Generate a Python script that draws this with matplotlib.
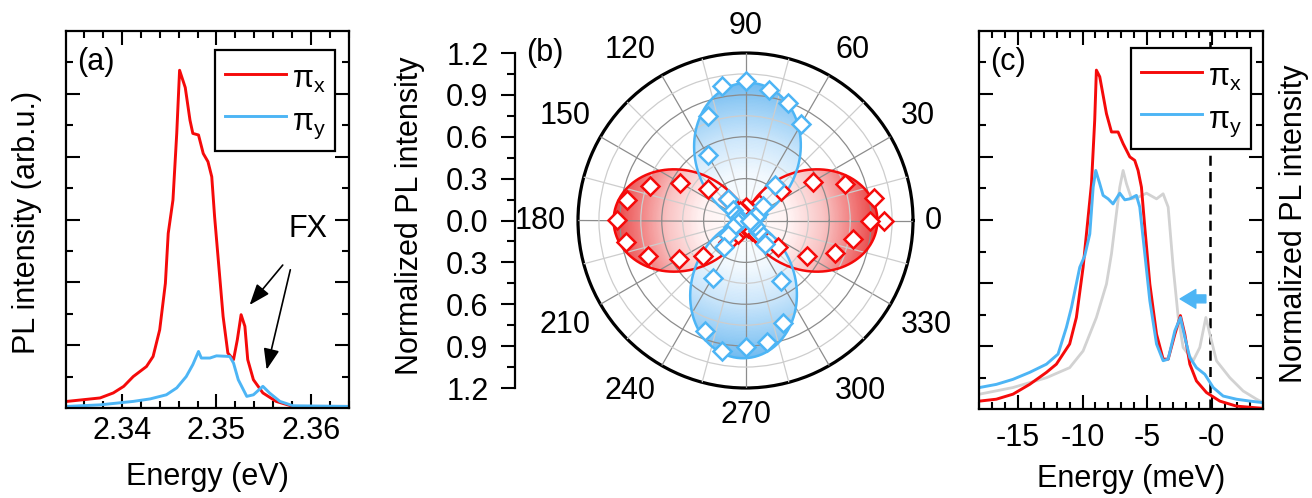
import matplotlib
matplotlib.use("Agg")
import matplotlib.pyplot as plt
import numpy as np
from matplotlib.colors import LinearSegmentedColormap
from matplotlib.transforms import offset_copy

plt.rcParams["font.family"] = ["Liberation Sans", "DejaVu Sans"]
plt.rcParams["mathtext.fontset"] = "custom"
plt.rcParams["mathtext.rm"] = "Liberation Sans"
plt.rcParams["mathtext.default"] = "rm"
plt.rcParams["axes.unicode_minus"] = False

RED = "#f50a0a"
BLUE = "#4db5f5"
GRAY = "#d2d2d2"

# ---- panel (a): PL spectra vs photon energy (eV) ----
a_red_e = [2.3342, 2.3377, 2.3391, 2.3402, 2.3412, 2.3426, 2.3433, 2.3440, 2.3446,
           2.3449, 2.3454, 2.3458, 2.3461, 2.3467, 2.3472, 2.3475, 2.3481, 2.3486,
           2.3491, 2.3495, 2.3498, 2.3504, 2.3507, 2.3512, 2.3518, 2.3522, 2.3526,
           2.3530, 2.3533, 2.3539, 2.3549, 2.3563, 2.3581, 2.3640]
a_red_i = [0.21, 0.32, 0.48, 0.69, 1.00, 1.32, 1.64, 2.49, 3.97,
           5.56, 6.62, 8.74, 10.75, 10.20, 9.16, 8.74, 8.69, 8.10,
           7.84, 7.36, 6.09, 3.97, 2.91, 1.75, 1.54, 2.17, 2.97,
           2.60, 1.54, 0.90, 0.48, 0.21, 0.05, 0.05]
a_blue_e = [2.3342, 2.3377, 2.3412, 2.3430, 2.3447, 2.3458, 2.3468, 2.3475, 2.3481,
            2.3484, 2.3493, 2.3500, 2.3514, 2.3518, 2.3523, 2.3532, 2.3539, 2.3549,
            2.3556, 2.3567, 2.3581, 2.3640]
a_blue_i = [0.05, 0.10, 0.21, 0.29, 0.42, 0.64, 1.00, 1.38, 1.80,
            1.59, 1.59, 1.66, 1.64, 1.43, 0.90, 0.37, 0.42, 0.69,
            0.48, 0.21, 0.07, 0.05]

# ---- panel (b): polarization diagrams ----
angles_deg = list(range(0, 361, 10))
b_red_r = [0.995, 0.935, 0.76, 0.555, 0.33, 0.15, 0.08, 0.05, 0.04, 0.10,
           0.05, 0.06, 0.08, 0.20, 0.35, 0.54, 0.73, 0.86, 0.92, 0.87,
           0.74, 0.55, 0.40, 0.20, 0.11, 0.06, 0.04, 0.03, 0.04, 0.06,
           0.09, 0.13, 0.30, 0.51, 0.68, 0.78, 0.89]
b_blue_r = [0.03, 0.05, 0.08, 0.10, 0.16, 0.33, 0.80, 0.895, 0.952, 1.00,
            0.977, 0.794, 0.542, 0.20, 0.12, 0.08, 0.05, 0.03, 0.04, 0.04,
            0.06, 0.10, 0.16, 0.245, 0.472, 0.841, 0.949, 0.905, 0.881, 0.778,
            0.502, 0.217, 0.12, 0.08, 0.05, 0.03, 0.03]
# cos^2 fit parameters: amplitude, offset, axis angle (deg)
fit_red = (0.93, 0.015, 0.0)
fit_blue = (0.975, 0.012, 88.5)
theta_labels = list(range(0, 360, 30))
radial_major = [0.3, 0.6, 0.9]
radial_minor = [0.15, 0.45, 0.75, 1.05]
scale_ticks = [-1.2, -0.9, -0.6, -0.3, 0.0, 0.3, 0.6, 0.9, 1.2]

# ---- panel (c): spectra vs relative energy (meV) ----
c_red_e = [-17.98, -16.68, -15.39, -14.1, -12.8, -12.03, -11.0, -10.48, -9.96, -9.57,
           -9.31, -9.06, -8.93, -8.67, -8.15, -7.76, -7.25, -6.86, -6.34, -5.96,
           -5.70, -5.44, -5.18, -4.79, -4.27, -3.76, -3.37, -2.85, -2.42, -2.08,
           -1.69, -1.18, -0.40, 0.63, 1.92, 4.0]
c_red_i = [0.26, 0.32, 0.48, 0.79, 1.17, 1.43, 2.07, 2.91, 4.50, 6.09,
           7.15, 9.16, 10.75, 10.54, 9.37, 8.79, 8.79, 8.42, 8.00, 7.89,
           7.57, 7.04, 5.77, 3.97, 2.38, 1.59, 1.59, 2.38, 2.97, 2.38,
           1.43, 0.90, 0.53, 0.26, 0.10, 0.03]
c_blue_e = [-17.98, -16.68, -15.39, -14.1, -12.8, -11.9, -11.25, -10.86, -10.22, -9.83,
            -9.44, -9.18, -8.98, -8.67, -8.41, -8.02, -7.64, -7.12, -6.73, -6.34,
            -5.83, -5.57, -5.18, -4.79, -4.27, -3.76, -3.37, -2.85, -2.42, -2.08,
            -1.69, -1.18, -0.53, 0.12, 0.89, 1.92, 2.96, 4.0]
c_blue_i = [0.69, 0.79, 0.95, 1.17, 1.43, 1.75, 2.60, 3.23, 4.50, 4.87,
            5.56, 7.04, 7.57, 7.15, 6.78, 6.67, 6.51, 6.85, 6.64, 6.67,
            6.78, 6.41, 4.93, 3.44, 2.07, 1.54, 1.59, 2.49, 2.91, 2.28,
            1.64, 1.32, 1.11, 0.69, 0.42, 0.32, 0.26, 0.21]
c_gray_e = [-17.98, -15.39, -12.8, -11.0, -9.96, -8.93, -8.15, -7.76, -7.38, -7.12,
            -6.86, -6.60, -6.21, -5.70, -5.05, -4.27, -3.76, -3.37, -2.98, -2.59,
            -2.21, -1.43, -0.92, -0.45, -0.14, 0.37, 1.41, 2.44, 3.48, 4.0]
c_gray_i = [0.48, 0.69, 1.00, 1.32, 1.85, 2.91, 3.97, 4.93, 6.20, 7.04,
            7.57, 7.15, 6.67, 6.72, 6.85, 6.67, 6.83, 6.41, 4.50, 2.91,
            1.96, 1.54, 1.96, 2.91, 2.38, 1.54, 1.00, 0.58, 0.32, 0.21]
c_xticks = [-15, -10, -5, 0]
c_xticklabels = ["-15", "-10", "-5", "-0"]
c_ref_line = -0.15

W, H = 1312, 498
fig = plt.figure(figsize=(W / 100, H / 100), dpi=100)
FS = 22


def px_box(x0, y0, x1, y1):
    return [x0 / W, 1 - y1 / H, (x1 - x0) / W, (y1 - y0) / H]


def style_spectrum_axes(ax):
    for s in ax.spines.values():
        s.set_linewidth(1.6)
    ax.set_ylim(0, 12)
    ax.set_yticks(np.arange(2, 12, 2))
    ax.set_yticks(np.arange(1, 12, 2), minor=True)
    ax.tick_params(which="both", direction="in", top=True, right=True,
                   labelleft=False, width=1.5, labelsize=FS)
    ax.tick_params(which="major", length=10)
    ax.tick_params(which="minor", length=5)


def add_legend(ax, anchor):
    leg = ax.legend(loc="upper right", bbox_to_anchor=anchor, borderaxespad=0,
                    fontsize=FS, fancybox=False, edgecolor="k", framealpha=1,
                    handlelength=2.0, handletextpad=0.2, labelspacing=0.12,
                    handleheight=1.55, borderpad=0.3)
    leg.get_frame().set_linewidth(1.6)
    leg.set_zorder(5)
    return leg


# ---------------- (a) ----------------
ax_a = fig.add_axes(px_box(66, 31, 349, 408))
ax_a.plot(a_red_e, a_red_i, color=RED, lw=2.1, label="π$_\\mathrm{x}$")
ax_a.plot(a_blue_e, a_blue_i, color=BLUE, lw=2.1, label="π$_\\mathrm{y}$")
ax_a.set_xlim(2.3341, 2.3639)
ax_a.set_xticks([2.34, 2.35, 2.36])
ax_a.set_xticks(np.arange(2.336, 2.364, 0.002), minor=True)
style_spectrum_axes(ax_a)
ax_a.tick_params(axis="x", pad=6)
ax_a.set_xlabel("Energy (eV)", fontsize=FS)
ax_a.xaxis.set_label_coords(207 / W, 1 - 462 / H, transform=fig.transFigure)
ax_a.set_ylabel("PL intensity (arb.u.)", fontsize=FS)
ax_a.yaxis.set_label_coords(42 / W, 1 - 222 / H, transform=fig.transFigure)
ax_a.text(0.039, 0.918, "(a)", transform=ax_a.transAxes, fontsize=FS, va="center")
ax_a.text(2.3597, 5.69, "FX", fontsize=FS, ha="center", va="center")
arrow_kw = dict(arrowstyle="-|>,head_length=0.85,head_width=0.32", color="k", lw=1.2,
                shrinkA=0, shrinkB=0, mutation_scale=15)
ax_a.annotate("", xy=(2.3535, 3.28), xytext=(2.3570, 4.55), arrowprops=arrow_kw)
ax_a.annotate("", xy=(2.3553, 1.22), xytext=(2.3578, 4.40), arrowprops=arrow_kw)
add_legend(ax_a, (0.9505, 0.9496))

# ---------------- (b) ----------------
ax_p = fig.add_axes(px_box(578, 53, 913, 388), projection="polar")
ax_p.set_ylim(0, 1.2)
theta_fit = np.deg2rad(np.linspace(0, 360, 721))
tt, rr = np.meshgrid(np.deg2rad(np.linspace(0, 360, 361)), np.linspace(0, 1.2, 121))
cmaps = {
    "red": LinearSegmentedColormap.from_list(
        "wr", [(0, "#ffffff"), (0.35, "#fff2f2"), (0.6, "#f9c4c4"), (0.85, "#f07474"), (1, "#e84444")]),
    "blue": LinearSegmentedColormap.from_list(
        "wb", [(0, "#ffffff"), (0.35, "#f2f9fe"), (0.6, "#cde7fb"), (0.85, "#96cdf5"), (1, "#72bbf0")]),
}
for name, fit, color, alpha in [("red", fit_red, RED, 1.0), ("blue", fit_blue, BLUE, 0.9)]:
    amp, off, phi = fit
    r_fit = amp * np.cos(theta_fit - np.deg2rad(phi)) ** 2 + off
    patch = ax_p.fill(theta_fit, r_fit, facecolor="none", edgecolor="none")[0]
    mesh = ax_p.pcolormesh(tt, rr, rr, cmap=cmaps[name], vmin=0, vmax=amp + off,
                           shading="gouraud", alpha=alpha, zorder=1)
    mesh.set_clip_path(patch)
    ax_p.plot(theta_fit, r_fit, color=color, lw=1.8, zorder=3)

th = np.deg2rad(angles_deg)
ax_p.plot(th, b_red_r, ls="none", marker="D", ms=9, mfc="white", mec=RED, mew=1.8, zorder=4)
ax_p.plot(th, b_blue_r, ls="none", marker="D", ms=9, mfc="white", mec=BLUE, mew=1.8, zorder=4)

ax_p.set_xticks(np.deg2rad(theta_labels))
ax_p.set_xticklabels([])
ax_p.set_xticks(np.deg2rad(np.arange(15, 360, 30)), minor=True)
ax_p.set_yticks(radial_major)
ax_p.set_yticks(radial_minor, minor=True)
ax_p.set_yticklabels([])
ax_p.set_axisbelow(False)
ax_p.grid(which="major", color="#8c8c8c", lw=0.9)
ax_p.grid(which="minor", color="#cdcdcd", lw=0.9)
ax_p.tick_params(axis="x", which="major", direction="in", length=11, width=2)
ax_p.tick_params(axis="x", which="minor", direction="in", length=6, width=1.5)
ax_p.tick_params(axis="y", which="both", length=0)
ax_p.spines["polar"].set_linewidth(2.3)

# angle labels sit just outside the rim, aligned by their nearest edge
pad_pt = 8.5
for a in theta_labels:
    c, s = np.cos(np.deg2rad(a)), np.sin(np.deg2rad(a))
    ha = "left" if c > 0.3 else ("right" if c < -0.3 else "center")
    va = "bottom" if s > 0.3 else ("top" if s < -0.3 else "center")
    trans = offset_copy(ax_p.transData, fig=fig, x=pad_pt * c, y=pad_pt * s, units="points")
    ax_p.text(np.deg2rad(a), 1.2, str(a), transform=trans, ha=ha, va=va,
              fontsize=FS, clip_on=False)

ax_s = fig.add_axes(px_box(515, 53, 516, 388))
ax_s.patch.set_visible(False)
for k in ["top", "right", "bottom"]:
    ax_s.spines[k].set_visible(False)
ax_s.spines["left"].set_linewidth(1.6)
ax_s.set_xticks([])
ax_s.set_ylim(-1.2, 1.2)
ax_s.set_yticks(scale_ticks)
ax_s.set_yticklabels(["%.1f" % abs(v) for v in scale_ticks])
ax_s.set_yticks(np.arange(-1.05, 1.1, 0.3), minor=True)
ax_s.tick_params(axis="y", which="major", direction="out", length=10, width=1.5,
                 labelsize=FS, pad=9)
ax_s.tick_params(axis="y", which="minor", direction="out", length=5.5, width=1.5)
ax_s.set_ylabel("Normalized PL intensity", fontsize=FS)
ax_s.yaxis.set_label_coords(425 / W, 1 - 216 / H, transform=fig.transFigure)
fig.text(526 / W, 1 - 53 / H, "(b)", fontsize=FS, va="center")

# ---------------- (c) ----------------
ax_c = fig.add_axes(px_box(979.3, 30.7, 1263.3, 409.3))
ax_c.plot(c_gray_e, c_gray_i, color=GRAY, lw=2.0)
ax_c.plot(c_red_e, c_red_i, color=RED, lw=2.1, label="π$_\\mathrm{x}$")
ax_c.plot(c_blue_e, c_blue_i, color=BLUE, lw=2.1, label="π$_\\mathrm{y}$")
ax_c.axvline(c_ref_line, color="k", lw=1.8, ls=(0, (4, 2.5)), zorder=1)
ax_c.set_xlim(-18, 4)
ax_c.set_xticks(c_xticks)
ax_c.set_xticklabels(c_xticklabels)
ax_c.set_xticks(np.arange(-18, 5, 1), minor=True)
style_spectrum_axes(ax_c)
ax_c.tick_params(axis="x", pad=10)
ax_c.annotate("", xy=(-2.44, 3.5), xytext=(-0.45, 3.5),
              arrowprops=dict(arrowstyle="simple,head_length=0.75,head_width=0.9,tail_width=0.38",
                              color=BLUE, shrinkA=0, shrinkB=0, mutation_scale=15))
ax_c.text(0.038, 0.917, "(c)", transform=ax_c.transAxes, fontsize=FS, va="center")
ax_c.set_xlabel("Energy (meV)", fontsize=FS)
ax_c.xaxis.set_label_coords(1131 / W, 1 - 464 / H, transform=fig.transFigure)
ax_c.yaxis.set_label_position("right")
ax_c.set_ylabel("Normalized PL intensity", fontsize=FS)
ax_c.yaxis.set_label_coords(1279 / W, 1 - 224 / H, transform=fig.transFigure)
add_legend(ax_c, (0.9567, 0.9543))

fig.savefig("out.png", dpi=100)
